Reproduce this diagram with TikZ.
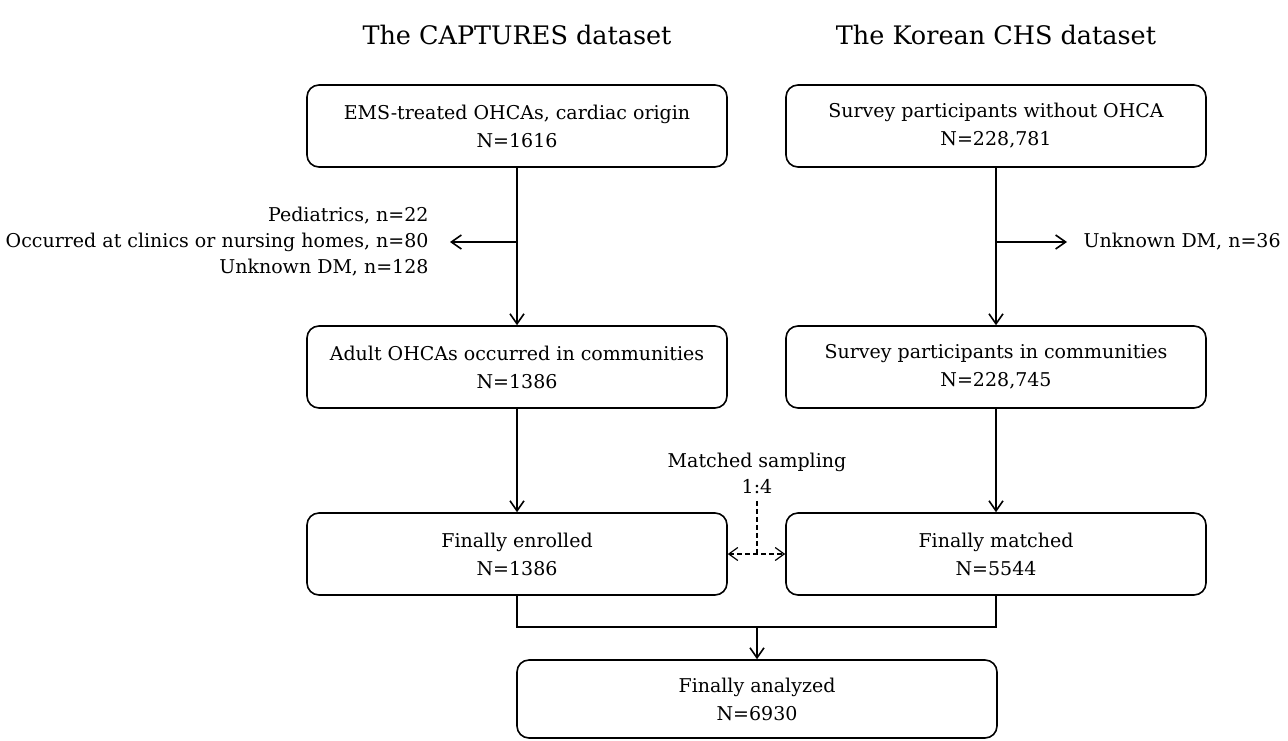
\documentclass[tikz,border=0pt]{standalone}
\usepackage{fontspec}
\setmainfont{DejaVu Serif}
\usetikzlibrary{arrows.meta}
\tikzstyle{stage}=[draw, rounded corners=12pt, line width=1.6pt, minimum width=420pt, minimum height=82pt, align=center, font=\fontsize{19}{28}\selectfont]
\tikzstyle{heading}=[font=\fontsize{25.5}{28}\selectfont]
\tikzstyle{note}=[font=\fontsize{19}{26}\selectfont]
\tikzstyle{flow}=[line width=1.6pt, -{Straight Barb[length=10pt,width=14pt,line width=1.6pt]}]
\tikzstyle{link}=[line width=1.6pt]
\tikzstyle{match}=[line width=1.2pt, dash pattern=on 5pt off 3pt]

\begin{document}
\begin{tikzpicture}[x=1pt, y=-1pt]
      \useasboundingbox (0, 0) rectangle (1288, 740);

      \node[heading] (cap_title) at (517, 35) {The CAPTURES dataset};
      \node[heading] (chs_title) at (996, 35) {The Korean CHS dataset};

      \node[stage] (ems) at (517, 126) {EMS-treated OHCAs, cardiac origin\\N=1616};
      \node[stage] (adult) at (517, 367) {Adult OHCAs occurred in communities\\N=1386};
      \node[stage] (enrolled) at (517, 554) {Finally enrolled\\N=1386};

      \node[stage] (survey) at (996, 126) {Survey participants without OHCA\\N=228,781};
      \node[stage] (community) at (996, 367) {Survey participants in communities\\N=228,745};
      \node[stage] (matched) at (996, 554) {Finally matched\\N=5544};

      \node[stage, minimum width=480pt, minimum height=78pt] (analyzed) at (757, 699) {Finally analyzed\\N=6930};

      \coordinate (ex_cap) at (450, 242);
      \node[note, anchor=east, align=right] (ex_cap_text) at (432, 242)
        {Pediatrics, n=22\\Occurred at clinics or nursing homes, n=80\\Unknown DM, n=128};
      \coordinate (ex_chs) at (1067, 242);
      \node[note, anchor=west] (ex_chs_text) at (1080, 242) {Unknown DM, n=36};

      \node[note, align=center] (sampling) at (757, 473) {Matched sampling\\1:4};
      \coordinate (merge) at (757, 627);

      \draw[flow] (ems) -- (adult);
      \draw[flow] (adult) -- (enrolled);
      \draw[flow] (survey) -- (community);
      \draw[flow] (community) -- (matched);
      \draw[flow] (ems.south |- ex_cap) -- (ex_cap);
      \draw[flow] (survey.south |- ex_chs) -- (ex_chs);

      \draw[link] (enrolled.south) |- (merge) -| (matched.south);
      \draw[flow] (merge) -- (analyzed.north);

      \draw[match, {Straight Barb[length=9pt,width=13pt,line width=1.2pt]}-{Straight Barb[length=9pt,width=13pt,line width=1.2pt]}] (enrolled) -- (matched);
      \draw[match] (sampling.south) ++(0, 4) -- (sampling.south |- enrolled);
    \end{tikzpicture}
\end{document}
